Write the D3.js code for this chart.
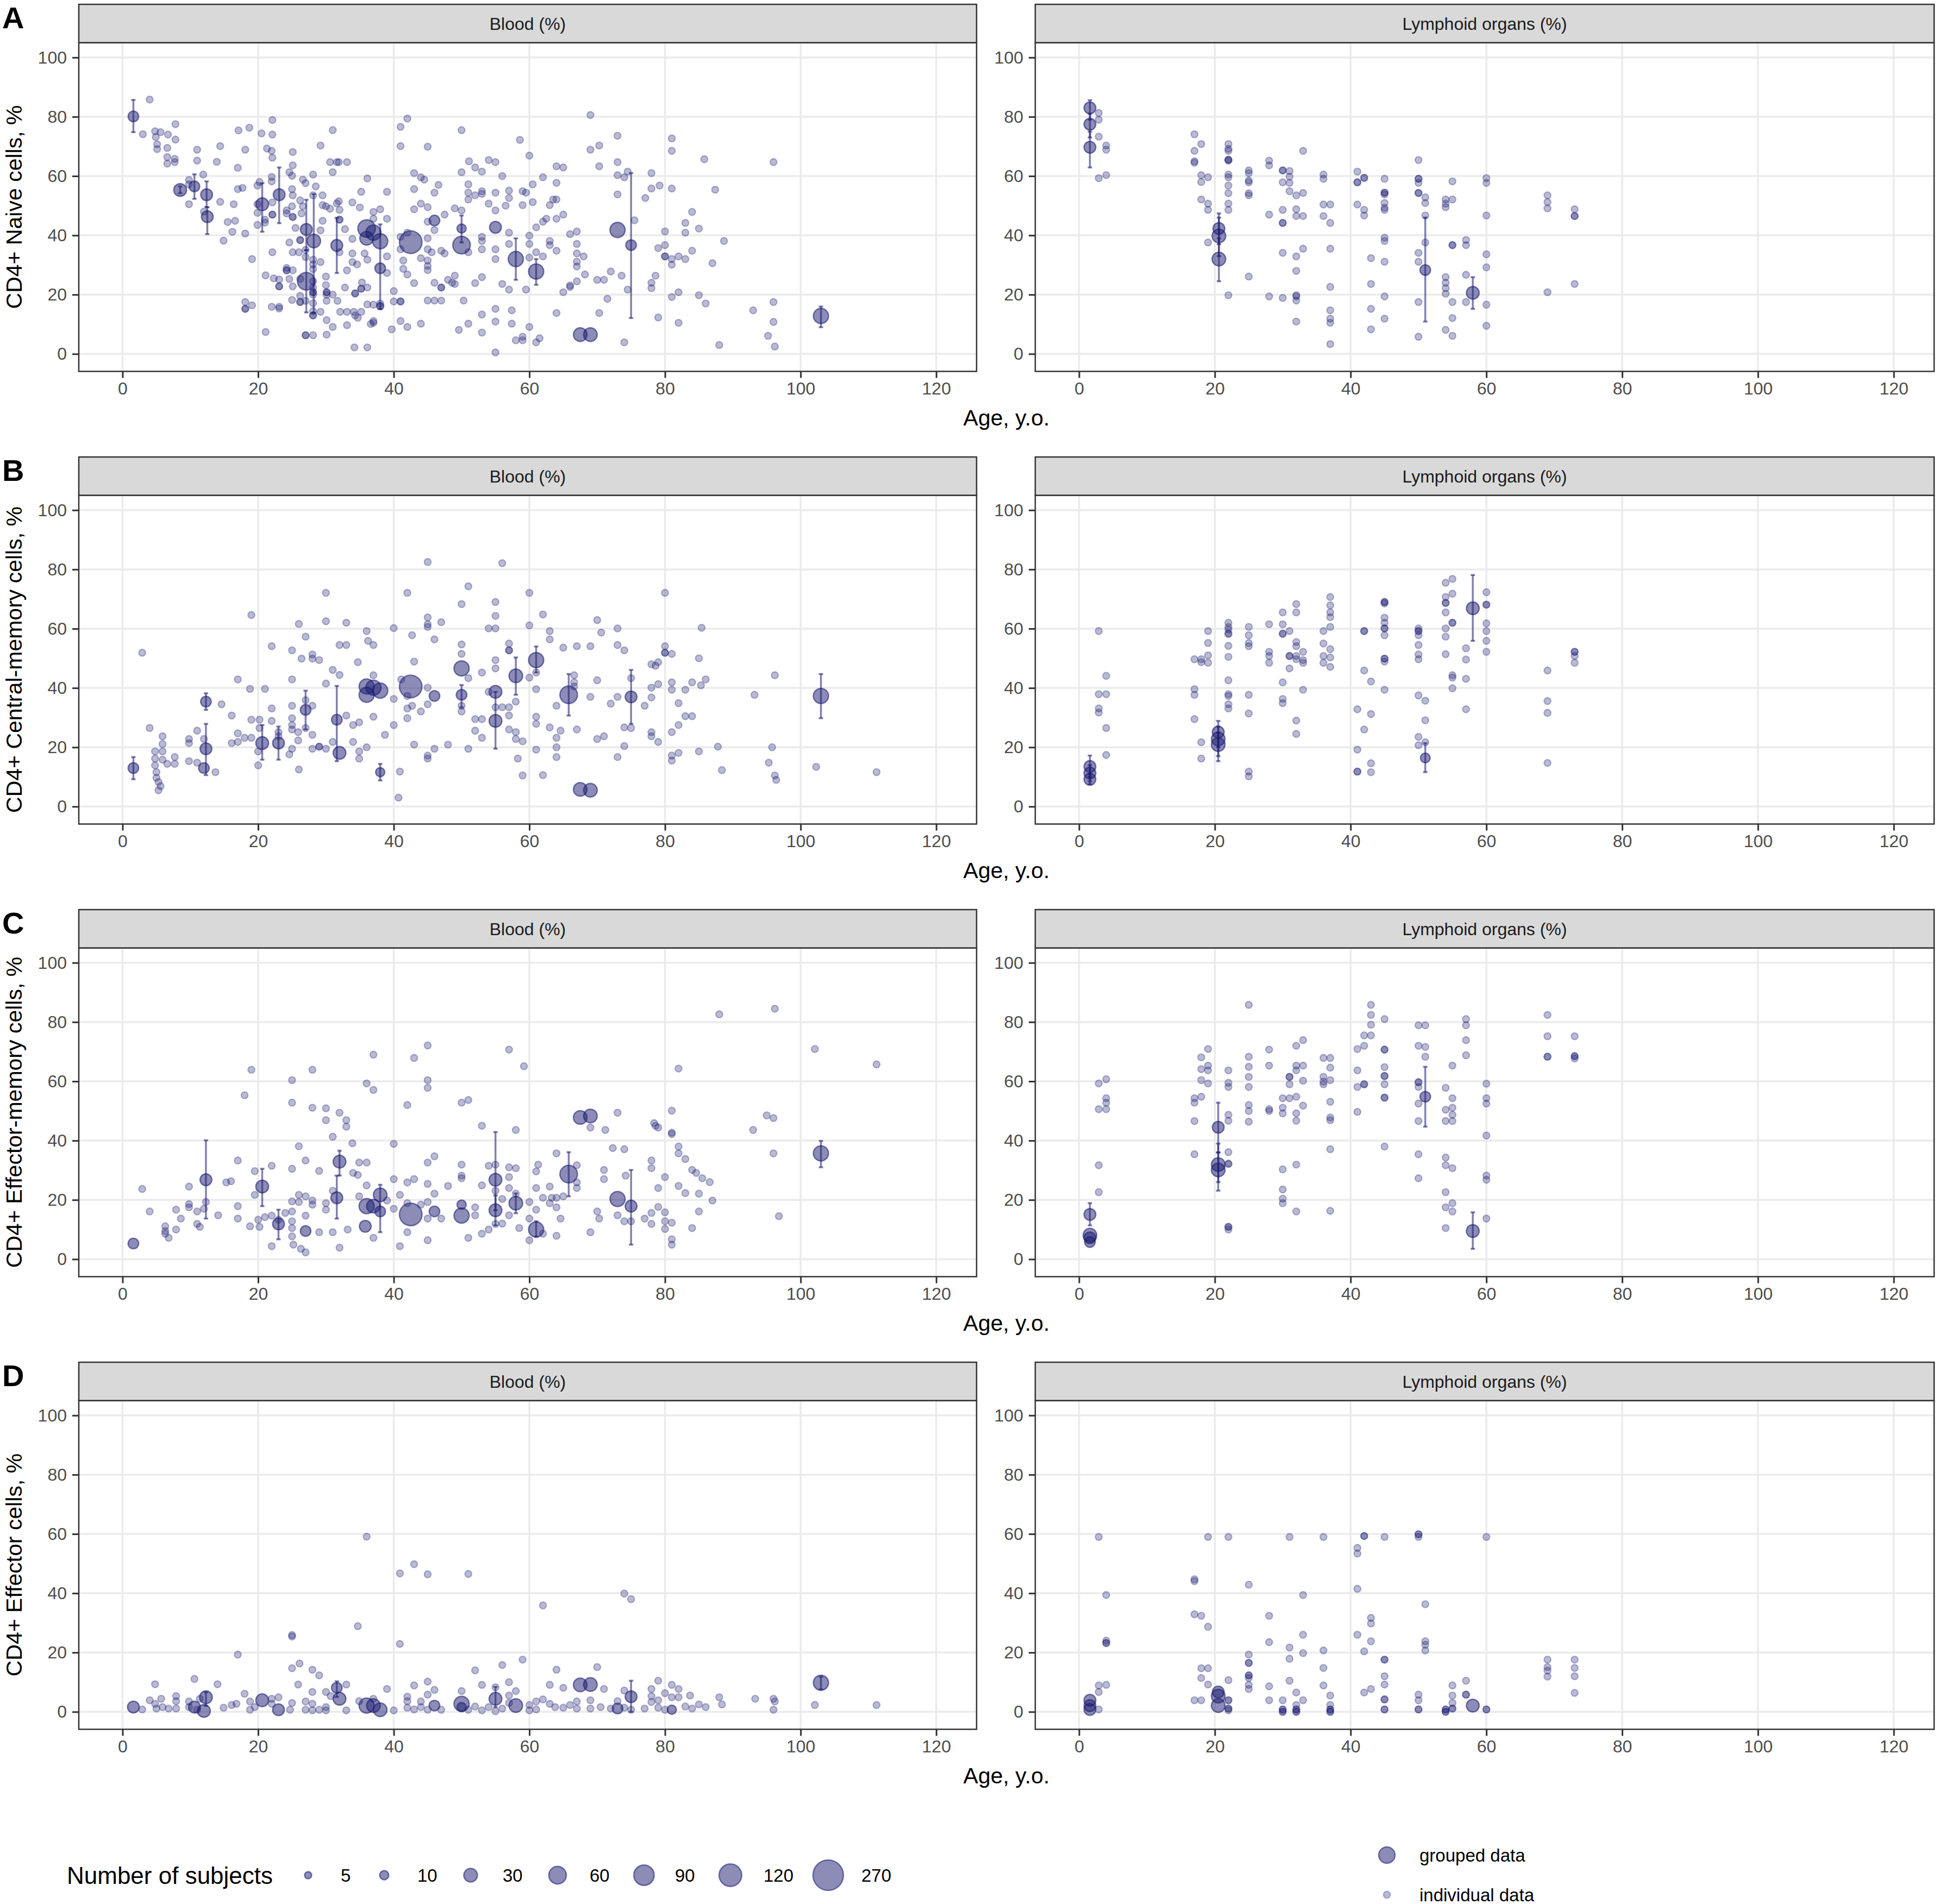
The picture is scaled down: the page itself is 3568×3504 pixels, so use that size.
<!DOCTYPE html>
<html>
<head>
<meta charset="utf-8">
<script src="https://cdn.jsdelivr.net/npm/d3@7"></script>
<style>
  body { margin: 0; background: #fff; }
  svg text { font-family: "Liberation Sans", Arial, sans-serif; }
</style>
</head>
<body>
<div id="chart"></div>
<script>
// ---- Categories and ticks ----
const tissues = ["Blood (%)", "Lymphoid organs (%)"];
const rowLetters = ["A", "B", "C", "D"];
const rowTitles = ["CD4+ Naive cells, %", "CD4+ Central-memory cells, %",
                   "CD4+ Effector-memory cells, %", "CD4+ Effector cells, %"];
const xTicks = [0, 20, 40, 60, 80, 100, 120];
const yTicks = [0, 20, 40, 60, 80, 100];
const legendSizes = [5, 10, 30, 60, 90, 120, 270];
const legendKinds = ["grouped data", "individual data"];

// ---- Individual data: [age, %] ----  grouped data: [age, %, n, low, high]
const naiveBloodInd = [[4,85.8],[3,74.1],[4.8,75.1],[5.6,74.8],[4.9,73.2],[5.1,70.7],[5.1,69.1],[6.7,74],[6.6,69.5],[6.6,66.4],[6.6,64.2],[7.8,77.5],[7.8,72.3],[7.7,65.8],[7.7,64.7],[11,68.9],[11,65.2],[11.9,60.5],[9.8,58.7],[9.8,57.2],[9.8,50.5],[12,48],[14.4,70.1],[13.9,64.8],[14.4,51.3],[14.9,38.2],[15.5,44.5],[16.4,50.5],[16.6,44.9],[16.2,41.2],[17,62.8],[17.1,75.4],[17,55.6],[17.7,56],[18.1,68.9],[18.1,40.6],[18.7,76.3],[19.1,32],[18.1,17.5],[18.1,15.2],[18.1,15.2],[19.1,16.4],[20.5,74.4],[21.3,69.3],[22.1,78.9],[22.1,74],[22,68.5],[22.1,66.2],[22,59.7],[22,58.2],[19.9,56.8],[20.2,58],[19.9,50.5],[19.9,47.6],[19.9,43.5],[21,45.3],[21,44.3],[22.1,51.1],[22.1,47],[22.1,47],[22.1,34.3],[21.1,26.5],[22.3,25.5],[23.1,25.1],[23.1,22.8],[23.1,22.8],[22,15.9],[23.1,15.9],[23.1,15.3],[21.1,7.4],[24.2,48.4],[24.2,47.4],[25,55.6],[25.1,53.5],[25,49.8],[25.1,46.2],[25.1,46.2],[24.6,61.3],[25,60.1],[25.1,63.6],[25.1,68.1],[24.6,37.6],[25.1,34.3],[25.5,42.5],[26,34.3],[24.2,29],[24.2,28.2],[24.2,28.2],[25.1,28.2],[25.1,22.8],[24.6,25.3],[26.2,25.3],[25,18.2],[26.2,19.6],[26.2,17.5],[26.2,17.5],[26.2,51.8],[26.6,49.8],[26.4,47.4],[26.6,58.8],[27,57.6],[26.2,38.4],[26.2,38.4],[27,32.7],[27,35.1],[27,17.9],[27,6.3],[27,6.3],[28.1,6.3],[28.1,60.5],[28.5,56.5],[28.1,53.5],[28.1,31.8],[28.1,30.2],[28.1,28.6],[28.1,24.5],[28.1,22.4],[28.1,20.8],[28.1,20.8],[28.1,20],[28.1,17.1],[28.1,13],[28.1,13],[28.1,14.4],[29.2,31],[29.2,70.3],[29.5,53.5],[29.5,50.2],[30,49.8],[30.6,49],[29.5,44.9],[29.2,41.7],[30,26.1],[30,23.2],[30.1,20.8],[30.1,20.8],[30.1,20],[30.1,17.9],[29.2,14.2],[30.1,11.4],[30.1,6.5],[31,20],[31,9.1],[30.6,64.7],[31,75.5],[31,61.3],[31.6,64.7],[31.9,64.7],[33.1,64.7],[31.6,50.8],[31.9,51.5],[32,48.6],[32,45.3],[32,45.3],[32.8,42.1],[32,34.3],[33.1,28.2],[32.8,22.4],[31.7,17.9],[32.1,14.2],[33.1,14.2],[33.1,9.7],[33.9,51.1],[33.9,38.8],[33.9,33.9],[33.9,31],[34.6,30.2],[34.3,20.4],[34.3,20.4],[34.1,14.2],[34.3,13],[34.7,12.2],[35.2,14.2],[34.2,2.2],[36.1,2.2],[35,49.4],[35.2,54.7],[36.1,59.2],[35.3,24.1],[35.2,22],[35.2,22],[36.1,22.4],[36.1,16.7],[36.6,10.1],[35.7,33.9],[36.1,31.8],[37,47.9],[37,45.6],[38,48.8],[39,45.6],[37,11.1],[37,10.5],[37,16.6],[38,17],[39,27.3],[39,32.9],[40,21.2],[40,17.7],[41,17.7],[41,17.7],[39,54.7],[39.7,8.3],[41,11.1],[42,9.1],[41,70.1],[41,76.6],[42,79.4],[43,61],[44,59.6],[44.5,58.8],[43,48.8],[43,55.6],[41,39.5],[42,40.9],[41,35.3],[41.4,31.5],[41.4,28.7],[42,26.8],[43,23.9],[44,50.7],[45,49.5],[45,44.6],[45,69.9],[45,39],[45,35.3],[45.6,34.3],[45,31.5],[45,29.7],[45,28.3],[44,32.3],[46,41.8],[46,24],[47,22.4],[47,22.4],[47,18],[46,18],[45,18],[44,10.2],[47,34.8],[46.6,57],[46,54.4],[47.5,47],[47.5,33.9],[48,25],[48.6,24],[49,26.4],[49,23.6],[49,49.1],[50,48.4],[50,61.3],[50,75.5],[51,57.2],[51,54.4],[51,52.1],[51,34.3],[50.3,18],[49.6,8.1],[51,10.2],[52,53.5],[52,62.9],[51.1,65],[53,61.5],[53,54.9],[53,54],[53,39.5],[53,38.1],[53,35.3],[53,13.3],[53,7.2],[52,23.9],[53,25.9],[54,65.4],[54,50.7],[55,64.7],[55,54.4],[55,48.4],[55,35.3],[55,32],[55,15.2],[55,10.9],[55,0.5],[56,60],[56,23.6],[57,21.7],[57,37.1],[57,40.9],[57,55.1],[57,52.6],[56.5,50],[57.4,14.7],[57.4,10.2],[58,4.6],[59,4.6],[58.6,72.2],[59,54.9],[59,50.2],[59.5,54.4],[60,66.9],[60,39.9],[60,37.1],[60,32.5],[60,9.1],[59,5.8],[59.5,21.7],[60.5,57.2],[60.5,51.2],[61,42.7],[61,34.3],[61,3.9],[61.5,5.3],[62,59.6],[62,44.6],[62,32.9],[62.5,45.6],[63,50.2],[63,38.1],[63,36.7],[63.5,52.1],[64,52.1],[64,57.7],[64,63.3],[65,62.9],[64,45.6],[65,47],[64,34.8],[64,13.8],[65,20.8],[66,22.6],[66,23.1],[66,40.4],[67,41.3],[67,37.1],[67,33.9],[67,31.1],[67,29.5],[67,24.5],[68,32.9],[68.2,26.8],[69,68.9],[69,80.6],[70.3,70.3],[70.3,63.3],[70,25],[71,25],[70.3,13.8],[71.5,18.6],[72,27.8],[73,73.6],[73,64.7],[73,60.3],[73,53.8],[73.6,26.4],[74,59.6],[74,3.9],[74.5,21.7],[74.5,61.5],[75.5,45.1],[77.1,52.6],[78,61],[78,55.8],[78,24],[78,22.2],[78.6,26.4],[79.2,56.8],[79,35.7],[79,12.3],[80,41.3],[80,36.7],[80,32.9],[80,32.9],[81,72.7],[81,68.5],[81,55.8],[81,32],[81,30.1],[81,19.2],[82,20.8],[82,10.5],[82,32.9],[83,44.2],[83,32],[83,40.9],[84,47.9],[84,34.8],[85,42.3],[85,19.8],[86,17],[85.8,65.7],[87,30.6],[87.4,55.4],[88,3],[88.7,38.1],[93,14.7],[96,64.7],[96,17.5],[96,10.8],[95.2,6.1],[96.2,2.5]];
const naiveBloodGrp = [[1.6,80.1,15,74.8,85.7],[8.5,55.3,25,54.2,56.5],[10.6,56.5,15,52.3,60.6],[12.4,53.7,20,49.5,58.2],[12.5,46.3,20,40.4,49.5],[20.6,50.5,25,41.2,57.6],[23.1,53.7,20,44.1,62.9],[27.1,42,20,35,52],[27.1,24.5,60,14,35],[28.2,38.1,30,13.8,53.9],[31.6,36.6,20,27.3,45.9],[36,42.3,60],[36,39,30],[37,40.9,40],[38,38,40],[38,28.9,15,15.2,43.7],[38,16.1,5],[42.5,37.7,120],[46,45,15],[50,42.3,10,37.6,46.7],[50,36.7,60],[55,42.7,20],[58,32,40,25,39],[61,27.8,40,23.3,32],[67.5,6.5,30],[69,6.5,30],[73,41.8,40],[75,36.7,15,12.1,61],[103,12.8,40,9,16]];

const naiveLymphInd = [[2.9,81.3],[2.9,79],[2.9,73.3],[2.9,59.3],[4,70.3],[4,68.9],[4,60.3],[17,74.1],[17,68.5],[17,65],[17,64.5],[18,70.8],[18,60.3],[18,58],[18,52.1],[19,59.6],[19,50.7],[19,48.6],[19,37.6],[22,70.8],[22,69.2],[22,68.5],[22,65.5],[22,65.5],[22,65.2],[22,60.5],[22,59.6],[22,56.8],[22,54.2],[22,50.7],[22,48.6],[22,19.8],[25,61.9],[25,61],[25,58.5],[25,57.9],[25,54.2],[25,53.5],[25,26.1],[28,65.2],[28,63.6],[28,47],[28,19.4],[30,61.9],[30,61.9],[30,57.9],[30,48.6],[30,44.2],[30,44.2],[30,34.1],[30,18.9],[31,61.7],[31,59.8],[31,57.7],[31,54.9],[32,53.5],[32,48.8],[32,46.5],[32,32.9],[32,28],[32,19.8],[32,19.4],[32,18],[32,10.9],[33,68.5],[33,54.3],[33,46.5],[33,35.5],[36,60.5],[36,59.1],[36,50.4],[36,46.5],[37,50.4],[37,44.2],[37,35.5],[37,22.6],[37,14.7],[37,11.9],[37,10.5],[37,3.3],[41,61.5],[41,57.9],[41,57.9],[41,50.4],[42,59.4],[42,59.4],[42,48.6],[42,46.7],[43,32.3],[43,23.6],[43,15.2],[43,8.3],[45,59.1],[45,54.4],[45,54.4],[45,53.8],[45,50.9],[45,49.3],[45,48.6],[45,39.2],[45,38.1],[45,31.1],[45,19.4],[45,11.9],[50,65.4],[50,59.1],[50,59.1],[50,57.7],[50,54.3],[50,54.3],[50,34.1],[50,31.1],[50,17.5],[50,5.8],[51,52.8],[51,50.9],[51,46.7],[51,37.6],[54,52.1],[54,50.7],[54,49.5],[54,25.9],[54,24],[54,22.2],[54,20.3],[54,8.1],[55,58.2],[55,52.1],[55,36.7],[55,36.7],[55,17.5],[55,12.1],[55,6.1],[57,38.4],[57,36.7],[57,26.7],[57,17.5],[60,59.3],[60,57.7],[60,46.7],[60,33.6],[60,29.2],[60,16.6],[60,9.5],[69,53.5],[69,51.2],[69,49.1],[69,20.8],[73,48.8],[73,46.5],[73,46.5],[73,23.6]];
const naiveLymphGrp = [[1.6,83,20,79,85.6],[1.6,77.5,20,73,81],[1.6,69.7,20,62.9,75],[20.6,42.3,20,37,47.4],[20.6,39.8,30,33,46],[20.6,32,30,24.5,39],[51,28.3,15,10.9,46],[58,20.6,25,15.2,25.9]];

const cmBloodInd = [[2.9,51.9],[4,26.5],[4.8,18.6],[4.8,16.2],[4.8,13.9],[5,11.6],[5,9.7],[5.3,8.3],[5.3,5.5],[5.6,6.9],[5.9,23.7],[5.9,21.1],[5.9,18.6],[5.9,15.8],[6.6,14.4],[7.7,16.7],[7.7,14.4],[9.8,22.8],[9.8,21.4],[9.8,15.3],[11,25.6],[11,14.8],[12,22.8],[13.7,11.6],[14.6,34.5],[16.1,30.7],[16.1,21.4],[17,24.7],[17,21.8],[17,42.9],[18,23.2],[18.8,39.7],[19,29.3],[19,23.2],[19,64.6],[20,18.6],[20,13.9],[20.2,29.3],[20.2,26.5],[21,39.7],[22,54.1],[22,33.1],[22,28.9],[23,25.1],[23,23.7],[25,52.7],[25,42.9],[25,34],[25,29.8],[25,27.5],[25,26],[25,19.5],[24.6,17.6],[26,61.6],[26,12.5],[25.9,22.3],[25.9,25.1],[26.4,49.9],[27,57.3],[27,35.9],[27,26.5],[28,51.3],[28,49.9],[28,34],[28,24.2],[28,19.5],[29,49.4],[29,20.2],[29,20.2],[30,72.1],[30,62.5],[30,41.5],[30,19.5],[31,46.1],[31,21.8],[32,54.5],[32,44.4],[33,54.5],[33,62],[33,30.7],[34,27.5],[34,21.8],[34.7,48.7],[34.9,28.4],[34.9,18.6],[34.9,16.2],[36,59.2],[36.2,55.9],[36,20],[37,54.5],[37,44.3],[37,30.3],[38.7,24.2],[40,60.2],[40,36.3],[40,27.5],[40.9,11.8],[40.7,3],[41.1,42.9],[42,72.1],[42,33.1],[42,29.8],[42,37.3],[42.7,57.8],[43,48.9],[42.7,34],[43,20.9],[44,32.1],[45,82.5],[45,63.8],[45,61.5],[45,60.6],[45,40.1],[45,34.5],[45,17.2],[45,16.2],[46,56.4],[46,19.5],[47,62.2],[48,20.9],[50,68.3],[50,54.7],[50,51.5],[50,34],[50,32.1],[51,74.3],[51,43.3],[51,19.5],[52,29.5],[52,25.6],[53,45.2],[53,29.5],[53,23.2],[54,60.1],[54,38.7],[55,69],[55,64.3],[55,60.1],[55,49.4],[55,46.6],[55,33.5],[56,33.5],[56,82.1],[57,55],[57,52.7],[57,52.7],[57,33.5],[57,30.7],[57,26],[58,35.4],[58,25.1],[58,22.8],[58.3,16.2],[59,22],[59,10.5],[60,72.1],[60,61.1],[60,43.5],[61,39.6],[61,30.3],[61,27.9],[61,19.2],[61,45.2],[62,64.8],[62,10.6],[63,59.2],[63,56.4],[63,26.7],[64,34],[64,23.2],[64,20],[64,16.7],[65,53.6],[64.6,25.6],[66.6,44.3],[66.6,41.9],[66.6,40.5],[67,54.1],[67,26],[69,54.1],[69,37],[70,62.9],[70.6,58.7],[70,42.6],[70,22.8],[71,23.7],[72,34.7],[73,60.1],[73,54.5],[73,37],[73,16.7],[74,52.7],[74,26.7],[74,20.4],[75,43.3],[75,26.5],[77,34],[78,48],[78,40.1],[78,36.8],[78,25.1],[78,23.7],[78.6,47.5],[79,48.7],[79,21.8],[79,41.3],[80,72.1],[80,54.1],[80,51.9],[80,51.9],[81,51.5],[81,41.9],[81,39.4],[81,25.1],[81,17.2],[81,15.5],[82,34.9],[82,27.5],[82,18.1],[83,39.4],[83,30.5],[84,41.9],[84,30.5],[85,50],[85,18.6],[85.3,40.9],[85.4,60.3],[86,42.9],[87.8,20.2],[88.4,12.3],[93.2,37.7],[95.3,14.8],[95.8,20],[96.2,44.3],[96.2,10.5],[96.4,9],[102.3,13.4],[111.2,11.6]];
const cmBloodGrp = [[1.6,13,15,9.2,16.7],[12.3,35.4,15,32.6,38.2],[12.3,19.5,20,10.6,27.9],[12,13,15],[20.6,21.4,25,15.8,27.5],[23,21.4,20,15.8,27],[27,32.6,15,26,39.1],[31.6,29.3,15,15.3,40.7],[32,18.1,25],[36,40.5,40],[36,37.7,40],[37,40.1,40],[38,39.1,40],[38,11.6,10,8.8,14.4],[42.5,40.5,120],[46,37.3,15],[50,46.6,40],[50,37.7,15,33.5,41],[55,38.7,25],[55,28.9,25,19.5,38.7],[58,44.1,30,37.7,50.3],[61,49.4,40,45.2,54],[65.8,37.7,60,30.7,44.7],[67.5,5.8,30],[69,5.5,30],[75,37,20,27.9,46.1],[103,37.3,40,29.8,44.7]];

const cmLymphInd = [[2.9,59.2],[2.9,37.9],[2.9,33.1],[2.9,31.7],[4,44.1],[4,37.9],[4,26.5],[4,17.4],[17,49.7],[17,39.6],[17,37.7],[17,29.5],[18,49.7],[18,48.7],[18,21.7],[18,16.2],[19,59.2],[19,55.2],[19,51],[19,48.5],[22,62],[22,60.6],[22,59.7],[22,58.3],[22,58.3],[22,54.2],[22,50.5],[22,42.6],[22,37.9],[22,37.3],[22,34.5],[22,33.1],[25,60.6],[25,57.8],[25,55.2],[25,54.1],[25,37.7],[25,31.4],[25,11.8],[25,10.2],[28,61.5],[28,52.2],[28,50.8],[28,48.5],[30,65.5],[30,61.5],[30,58.3],[30,58.3],[30,41.9],[30,36.3],[30,34.9],[31,59.2],[31,50.8],[31,50.8],[31,46.6],[32,68.3],[32,65.5],[32,55.5],[32,54.1],[32,50.8],[32,49.7],[32,29],[32,24.5],[33,52.2],[33,49.4],[33,48.5],[33,39.4],[36,59.2],[36,55],[36,50.8],[36,48.5],[37,70.7],[37,67.9],[37,65.5],[37,63.9],[37,60.6],[37,53.1],[37,50.3],[37,47.1],[41,32.8],[41,19.2],[41,11.8],[41,11.8],[42,59.2],[42,59.2],[42,45.9],[42,26],[43,42.2],[43,31.2],[43,14.6],[43,11.6],[45,69],[45,69],[45,68.5],[45,63.7],[45,62],[45,60.1],[45,60.1],[45,57.8],[45,49.9],[45,49.9],[45,48.9],[45,39.4],[50,60.1],[50,59.2],[50,59.2],[50,57.8],[50,54.5],[50,51.3],[50,49.7],[50,37.5],[50,23.5],[50,20.7],[51,35.7],[51,29.1],[51,21.7],[54,75.5],[54,70.7],[54,68.7],[54,68.7],[54,65.5],[54,60.1],[54,57.3],[54,51.4],[55,76.8],[55,71.8],[55,62],[55,62],[55,44.3],[55,43.5],[55,39.9],[57,53.4],[57,49.6],[57,43.1],[57,32.8],[60,72.3],[60,68.1],[60,68.1],[60,61.8],[60,59.2],[60,55.9],[60,52.2],[69,45.9],[69,35.6],[69,31.6],[69,14.7],[73,52.2],[73,52.2],[73,50.8],[73,48.5]];
const cmLymphGrp = [[1.6,13.5,20,10,17.2],[1.6,11.3,20,8.5,14],[1.6,9.2,20,7.5,11],[20.5,25.1,20,20,28.9],[20.5,22.8,30,17,27],[20.5,20.9,30,15.3,25],[51,16.4,12,11.6,21.4],[58,66.9,25,55.9,78.1]];

const emBloodInd = [[2.9,23.7],[4,16.1],[6.3,11.1],[6.3,9.5],[6.3,8.6],[6.8,7.2],[7.9,16.7],[7.9,10],[8.6,13.7],[9.8,24.5],[9.8,18.6],[9.8,17.5],[11,16.1],[11,11.9],[11.4,10.9],[12,17],[12.3,19.3],[14.1,14.8],[15.3,25.9],[16,26.3],[17,33.3],[17,17.9],[17,13.7],[18,55.3],[18.8,11.1],[19,63.9],[19.5,29.7],[19.5,21.7],[20,13.3],[20.2,10.9],[21,14.2],[22,31.5],[22,14.7],[22,4.4],[23,13.3],[24,15.6],[25,60.4],[25,52.8],[25,30.5],[25,19.5],[25,16.1],[25,12.8],[25,10.5],[25,7.7],[25.2,4.9],[26,38.1],[26,21.7],[26,19.3],[26.3,3.5],[27,33.3],[27,21.2],[27,14.7],[27,2.3],[28,63.9],[28,51.1],[28,19.8],[28,18.4],[29,29.8],[29,9.1],[30,50.9],[30,46.9],[30,18.9],[30,16.7],[31,41.3],[31,9.1],[31,23.1],[32,49.4],[32,3.9],[33,46.9],[33,44.7],[33.2,10],[33.9,39.1],[34,29.1],[34.7,28.4],[34.9,32.6],[34.9,21.2],[36,59.3],[36,32.6],[36,24.9],[37,69],[37,57.1],[37,7.2],[39,19.8],[40,38.9],[40,27],[40,17],[40.9,4.4],[40.9,21.7],[42,52],[42,25.9],[42,18.9],[42,9.1],[43,67.9],[43,27],[44,18.4],[45,60.4],[45,57.8],[45,72.1],[45,32.6],[45,25.4],[45,19.3],[45,6.4],[45,13.7],[46,34.7],[46,22.1],[47,13.7],[48,24.7],[50,52.8],[50,31.9],[50,28.2],[50,27.3],[51,53.7],[51,7.2],[52,17.5],[52,14.8],[53,45],[53,24.9],[53,8.6],[54,31.5],[54,10],[55,31.9],[55,23.1],[55,11.9],[56,20.3],[56,12],[57,70.7],[57,31],[57,27.7],[57,24],[57,14.8],[58,43.6],[58,30.7],[58,22.1],[58.5,10.5],[59.2,65.1],[60,19.3],[60,13.7],[60,6.4],[61,29.6],[61,24],[61,16.7],[61.3,31.9],[62,20.7],[62,8.6],[63,24.5],[63,18.9],[63.3,20.7],[64,35.7],[64,20.7],[64,17.5],[64,7.9],[64.6,13.7],[65,21.2],[67,31.7],[67,25.9],[67,24],[69,44.4],[69,9.1],[70,16.1],[70.3,13.7],[71,30.1],[71,27],[71.2,43.6],[72.3,37.5],[73,49.4],[73,14.8],[74,37.1],[74.2,28.2],[74,12.8],[75,12.8],[77,13.7],[78,33.3],[78,30.7],[78,15.6],[78,11.9],[78.4,45.9],[78.6,45],[79,44.4],[79,24],[79,17.6],[80,27.7],[80,15.8],[80,12.8],[80,10.2],[81,50.1],[81,42.7],[81,42.2],[81,12.3],[81,6.7],[81,4.9],[82,64.3],[82,38],[82,35.7],[82,24.7],[83,33.8],[83,22.3],[84,30.1],[84,10.5],[84.6,29.1],[85,22.1],[85,16.1],[85.5,27.3],[86.6,26],[87,19.8],[88,82.6],[93,43.6],[95,48.5],[96,47.6],[96,35.7],[96.2,84.5],[96.8,14.5],[102.1,70.9],[111.2,65.7]];
const emBloodGrp = [[1.6,5.3,15],[12.3,26.8,20,13.7,40.1],[20.6,24.5,25,17.9,30.5],[23,11.9,20,6.7,16.7],[27,9.5,15],[32,32.9,25,28.2,36.6],[31.6,20.7,20,13.7,28.2],[36,17.9,40],[37,17.9,30],[38,21.7,30,9.1,25.1],[38,16.1,15],[35.8,11.1,20],[42.5,15.1,120],[46,16.1,15],[50,14.7,40],[50,18.4,10],[55,26.8,25,16.5,42.9],[55,16.5,25,11.4,21.5],[58,18.9,30,15.5,22.2],[61,10,40,7.6,12.8],[65.8,28.7,60,21.2,36.1],[67.5,47.8,30],[69,48.3,30],[73,20.3,40],[75,17.9,20,4.9,30.1],[103,35.7,40,31,39.9]];

const emLymphInd = [[2.9,59.3],[2.9,50.6],[2.9,31.7],[2.9,22.6],[4,60.7],[4,54.3],[4,52.8],[4,50.6],[17,54.3],[17,52.8],[17,46.6],[17,35.4],[18,68.1],[18,64.1],[18,60.4],[18,54.8],[19,70.9],[19,65.3],[19,63.7],[19,59.3],[22,63.7],[22,59.5],[22,58.1],[22,48.7],[22,46.7],[22,36.1],[22,32.2],[22,32.2],[22,10.9],[22,10.9],[22,10],[25,85.8],[25,68.3],[25,64.9],[25,61.5],[25,58.1],[25,52],[25,50],[25,46.4],[28,70.7],[28,65.3],[28,50.6],[28,50],[30,54.3],[30,51.1],[30,49.2],[30,30.3],[30,23.5],[30,20.4],[30,18.9],[31,61.5],[31,61.5],[31,59],[31,54.3],[32,72],[32,65.3],[32,63.7],[32,54.8],[32,49.2],[32,46.7],[32,31.9],[32,16.1],[33,73.9],[33,65.3],[33,60.2],[33,51.8],[36,67.9],[36,61.5],[36,59.9],[36,59],[37,67.9],[37,64.6],[37,60.4],[37,53.1],[37,47.8],[37,46.9],[37,37.1],[37,16.3],[41,70.9],[41,63.7],[41,58.1],[41,49.7],[42,75.5],[42,72],[42,59],[42,59],[43,85.8],[43,82.4],[43,79.1],[43,75.5],[45,81],[45,70.7],[45,70.7],[45,64.8],[45,61.8],[45,61.8],[45,59],[45,54.5],[45,54.5],[45,38],[50,78.9],[50,72],[50,59.7],[50,59.7],[50,58.1],[50,52.5],[50,46.6],[50,35.4],[50,27.3],[51,78.9],[51,71.6],[51,68.3],[54,57.8],[54,50.4],[54,46.6],[54,34.3],[54,31.7],[54,22.6],[54,17.5],[54,10.5],[55,65.3],[55,54.3],[55,51.1],[55,48.7],[55,46.6],[55,30.7],[55,18.9],[55,16.1],[57,81],[57,78.9],[57,73.9],[57,68.8],[60,59.2],[60,54.3],[60,52.5],[60,41.7],[60,28.2],[60,26.8],[60,13.7],[69,82.4],[69,75.2],[69,68.3],[69,68.3],[73,75.2],[73,68.5],[73,68.5],[73,67.7]];
const emLymphGrp = [[1.6,15.1,20,11.4,18.9],[1.6,8.1,30],[1.6,7.2,20],[1.6,5.8,15],[20.5,44.5,20,36,52.8],[20.5,31.9,30,26,39],[20.5,30.1,30,23.1,36],[51,54.8,15,44.7,64.9],[58,9.5,25,3.5,15.8]];

const effBloodInd = [[2.9,0.8],[4,3.9],[4.8,9.3],[4.8,2.7],[5,1.1],[5.7,4.4],[5.9,1.6],[6.8,1.1],[7.9,5.3],[7.9,3.6],[7.9,1.1],[9.8,3.5],[9.8,1.6],[10.6,11.1],[11,0.7],[11.4,4.4],[14,9.3],[14.9,1.4],[16.1,2.3],[16.8,2.7],[17,19.3],[18,6.1],[18.8,3.5],[18.8,0.7],[19.5,1.6],[22,4.4],[22,2.7],[23,4.9],[25,14.7],[25,25.9],[25,25.4],[25,3],[24.7,0.7],[25.9,9.2],[26.1,16.3],[27,3.5],[27,0.7],[28,14.2],[28,6.7],[28,2.7],[28,0.5],[29,12.3],[29,0.7],[30,6.7],[30,1.6],[30,0.5],[30.7,5.3],[33,9.2],[33,0.5],[34.7,28.9],[34.9,3.6],[36,59.1],[37,4.4],[39,7.7],[40,0.5],[40.9,46.7],[40.9,22.9],[42,5.1],[42,3.6],[42,1.4],[43,49.8],[43,8.9],[43,0.8],[44,3.5],[44,1.6],[45,46.4],[45,10.2],[45,5.8],[45,0.7],[46,7.4],[47,0.7],[50,7],[51,46.5],[51,0.7],[52,14],[52,1.8],[53,9.1],[53,0.5],[54,1.6],[55,8.3],[55,0.2],[56,15.8],[56,1.1],[57,10],[57,5.5],[57,3],[58,7],[59,17.6],[60,2.3],[60,0.5],[61,3.5],[61,0.8],[62,35.9],[62,4.2],[63,9.1],[63,2.7],[63.8,1.6],[64,14.2],[65,8.1],[65,1.4],[66,2.3],[67,3.5],[67,1.1],[69,3.9],[69,1.1],[70,15.1],[70.5,1.6],[71,7.7],[72,1.1],[73,3.6],[74,39.9],[74,7.2],[74,1.4],[75,38],[75,0.7],[77,1.1],[78,7.7],[78,5.3],[78,3.3],[79,10.5],[79,3.9],[79,1.4],[80,6.3],[80,0.7],[81,9.1],[81,4.9],[82,7.7],[82,4.9],[83,1.8],[83.7,5.5],[84,1.1],[85,2.5],[86,1.6],[88,4.9],[88.4,2.5],[93.3,4.4],[96,4.4],[96.2,3.5],[96,0.7],[102.1,2.3],[111.2,2.3]];
const effBloodGrp = [[1.6,1.6,20],[10.6,1.6,20],[12,0.3,25],[12.3,4.9,25,2,6.6],[20.6,3.9,25],[23,0.7,20],[31.6,8.1,15,5,10.3],[32,4.4,25],[36,2.1,40],[37,2.1,30],[38,0.7,30],[46,2.1,15],[50,2.7,40],[50,1.6,10],[55,4.4,25,1.6,8.4],[58,2.1,30],[67.5,9.1,30],[69,9.2,30],[73,1.1,15],[75,5.1,20,0,10.5],[81,0.7,10],[103,9.8,40,7.6,11.8]];

const effLymphInd = [[2.9,59],[2.9,8.9],[2.9,6.7],[2.9,0.8],[4,39.4],[4,24],[4,23.2],[4,23.2],[4,9.1],[17,44.7],[17,44.1],[17,32.9],[17,3.9],[18,32.4],[18,14.7],[18,11.4],[18,3.9],[19,59],[19,28.7],[19,14.7],[19,9.2],[22,59],[22,10.7],[22,3.9],[22,3.9],[22,1.1],[22,1.1],[22,0.5],[25,42.9],[25,19.3],[25,16.5],[25,16.5],[25,12.3],[25,12.3],[25,11.4],[25,9.1],[25,7.7],[28,32.4],[28,23.5],[28,8.6],[28,3.9],[30,3.9],[30,0.8],[30,0.8],[30,0],[30,0],[31,59],[31,21.7],[31,17.9],[31,10.5],[32,6.5],[32,2.3],[32,0.8],[32,0.8],[32,0],[32,0],[33,39.4],[33,26],[33,19.8],[33,3.9],[36,59],[36,20.7],[36,14.8],[36,8.9],[37,5.5],[37,2.3],[37,0.8],[37,0.8],[37,0],[37,0],[41,55.3],[41,53.4],[41,41.5],[41,26],[42,59.3],[42,59.3],[42,20.4],[42,6.5],[43,31.7],[43,29.8],[43,23.8],[43,7.7],[45,59],[45,17.6],[45,17.6],[45,12],[45,9.2],[45,4.2],[45,4.2],[45,0.8],[45,0.8],[50,59.9],[50,59.9],[50,59],[50,5.8],[50,3.9],[50,0.8],[50,0.8],[51,36.3],[51,23.8],[51,22.6],[51,20.7],[54,0.8],[54,0.8],[54,0],[54,0],[55,8.9],[55,5.5],[55,3],[55,1.1],[55,1.1],[57,10.5],[57,5.8],[57,5.8],[60,59],[60,0.8],[60,0.8],[69,17.6],[69,15.1],[69,13.9],[69,11.9],[73,17.6],[73,14.8],[73,12],[73,6.4]];
const effLymphGrp = [[1.6,3.9,20],[1.6,2.1,20],[1.6,0.8,20],[20.5,6.7,20],[20.5,5.3,30],[20.5,2.1,30],[58,2.1,25]];

// Rows of panels: [blood individual, blood grouped, lymphoid individual, lymphoid grouped]
const rows = [
    [naiveBloodInd, naiveBloodGrp, naiveLymphInd, naiveLymphGrp],
    [cmBloodInd, cmBloodGrp, cmLymphInd, cmLymphGrp],
    [emBloodInd, emBloodGrp, emLymphInd, emLymphGrp],
    [effBloodInd, effBloodGrp, effLymphInd, effLymphGrp]
];

// ---- Layout ----
const width = 3568, height = 3504;
const colRange = [[145, 1797], [1905, 3559]];
const rowStep = 833;
const panelTop = 78.5, panelBottom = 683.5, stripTop = 8;
const navy = "#191970";

const svg = d3.select("#chart").append("svg")
    .attr("width", width)
    .attr("height", height)
    .attr("viewBox", `0 0 ${width} ${height}`);

svg.append("rect").attr("width", width).attr("height", height).attr("fill", "#fff");

// Taille des cercles selon le nombre de sujets
const rScale = d3.scalePow().exponent(0.366).domain([0, 270]).range([0, 28]);
const rInd = 6.3;

rows.forEach((row, ri) => {
    const dy = ri * rowStep;
    const y = d3.scaleLinear().domain([-5.9, 105]).range([panelBottom + dy, panelTop + dy]);

    tissues.forEach((tissue, ci) => {
        const [x0, x1] = colRange[ci];
        const x = d3.scaleLinear().domain([-6.45, 125.95]).range([x0, x1]);
        const ind = row[ci * 2], grp = row[ci * 2 + 1];
        const g = svg.append("g");

        // Fond et grille
        g.append("rect").attr("x", x0).attr("y", panelTop + dy)
            .attr("width", x1 - x0).attr("height", panelBottom - panelTop)
            .attr("fill", "#fff");
        g.selectAll(".gx").data(xTicks).enter().append("line")
            .attr("x1", d => x(d)).attr("x2", d => x(d))
            .attr("y1", panelTop + dy).attr("y2", panelBottom + dy)
            .attr("stroke", "#ebebeb").attr("stroke-width", 3.5);
        g.selectAll(".gy").data(yTicks).enter().append("line")
            .attr("x1", x0).attr("x2", x1)
            .attr("y1", d => y(d)).attr("y2", d => y(d))
            .attr("stroke", "#ebebeb").attr("stroke-width", 3.5);

        // Points individuels
        g.selectAll(".ind").data(ind).enter().append("circle")
            .attr("cx", d => x(d[0])).attr("cy", d => y(d[1])).attr("r", rInd)
            .attr("fill", navy).attr("fill-opacity", 0.3)
            .attr("stroke", navy).attr("stroke-opacity", 0.3).attr("stroke-width", 2.2);

        // Barres d'erreur des données groupées
        const bars = grp.filter(d => d.length > 3);
        bars.forEach(d => {
            const bx = x(d[0]);
            const b = g.append("g").attr("stroke", navy).attr("stroke-opacity", 0.55).attr("stroke-width", 3.5);
            b.append("line").attr("x1", bx).attr("x2", bx).attr("y1", y(d[3])).attr("y2", y(d[4]));
            [d[3], d[4]].forEach(v => b.append("line")
                .attr("x1", bx - 4).attr("x2", bx + 4).attr("y1", y(v)).attr("y2", y(v)));
        });

        // Points groupés
        g.selectAll(".grp").data(grp).enter().append("circle")
            .attr("cx", d => x(d[0])).attr("cy", d => y(d[1])).attr("r", d => rScale(d[2]))
            .attr("fill", navy).attr("fill-opacity", 0.5)
            .attr("stroke", navy).attr("stroke-opacity", 0.55).attr("stroke-width", 2.5);

        // Cadre du panneau
        g.append("rect").attr("x", x0).attr("y", panelTop + dy)
            .attr("width", x1 - x0).attr("height", panelBottom - panelTop)
            .attr("fill", "none").attr("stroke", "#333").attr("stroke-width", 2.5);

        // Bandeau
        g.append("rect").attr("x", x0).attr("y", stripTop + dy)
            .attr("width", x1 - x0).attr("height", panelTop - stripTop)
            .attr("fill", "#d9d9d9").attr("stroke", "#333").attr("stroke-width", 2.5);
        g.append("text").attr("x", (x0 + x1) / 2).attr("y", stripTop + dy + 47)
            .attr("text-anchor", "middle").attr("font-size", 32).attr("fill", "#1a1a1a")
            .text(tissue);

        // Axes
        const xAxis = g.append("g").attr("transform", `translate(0,${panelBottom + dy})`)
            .call(d3.axisBottom(x).tickValues(xTicks).tickSize(12).tickPadding(8));
        const yAxis = g.append("g").attr("transform", `translate(${x0},0)`)
            .call(d3.axisLeft(y).tickValues(yTicks).tickSize(12).tickPadding(10));
        [xAxis, yAxis].forEach(a => {
            a.select(".domain").remove();
            a.selectAll(".tick line").attr("stroke", "#333").attr("stroke-width", 3);
            a.selectAll(".tick text").attr("font-size", 32).attr("fill", "#4d4d4d")
                .style("font-family", "Liberation Sans, Arial, sans-serif");
        });
    });

    // Titres des axes et lettre de la ligne
    svg.append("text").attr("x", (colRange[0][0] + colRange[1][1]) / 2).attr("y", 783 + dy)
        .attr("text-anchor", "middle").attr("font-size", 41).text("Age, y.o.");
    svg.append("text")
        .attr("transform", `translate(40,${(panelTop + panelBottom) / 2 + dy}) rotate(-90)`)
        .attr("text-anchor", "middle").attr("font-size", 41).text(rowTitles[ri]);
    svg.append("text").attr("x", 4).attr("y", 52 + dy)
        .attr("font-size", 56).attr("font-weight", "bold").text(rowLetters[ri]);
});

// ---- Légende : nombre de sujets ----
const legendY = 3451;
const legendX = [567, 707, 866, 1026, 1185, 1344, 1524];
const legendLabelX = [627, 768, 925, 1085, 1242, 1405, 1585];
svg.append("text").attr("x", 123).attr("y", 3467)
    .attr("font-size", 44).text("Number of subjects");
legendSizes.forEach((n, i) => {
    svg.append("circle").attr("cx", legendX[i]).attr("cy", legendY).attr("r", rScale(n))
        .attr("fill", navy).attr("fill-opacity", 0.5)
        .attr("stroke", navy).attr("stroke-opacity", 0.55).attr("stroke-width", 2.5);
    svg.append("text").attr("x", legendLabelX[i]).attr("y", legendY + 12)
        .attr("font-size", 33).text(n);
});

// ---- Légende : type de données ----
legendKinds.forEach((k, i) => {
    const cy = 3414 + i * 73;
    svg.append("circle").attr("cx", 2552).attr("cy", cy).attr("r", i === 0 ? 15 : rInd)
        .attr("fill", navy).attr("fill-opacity", i === 0 ? 0.5 : 0.3)
        .attr("stroke", navy).attr("stroke-opacity", i === 0 ? 0.55 : 0.3)
        .attr("stroke-width", i === 0 ? 2.5 : 2.2);
    svg.append("text").attr("x", 2612).attr("y", cy + 12)
        .attr("font-size", 33).text(k);
});
</script>
</body>
</html>
